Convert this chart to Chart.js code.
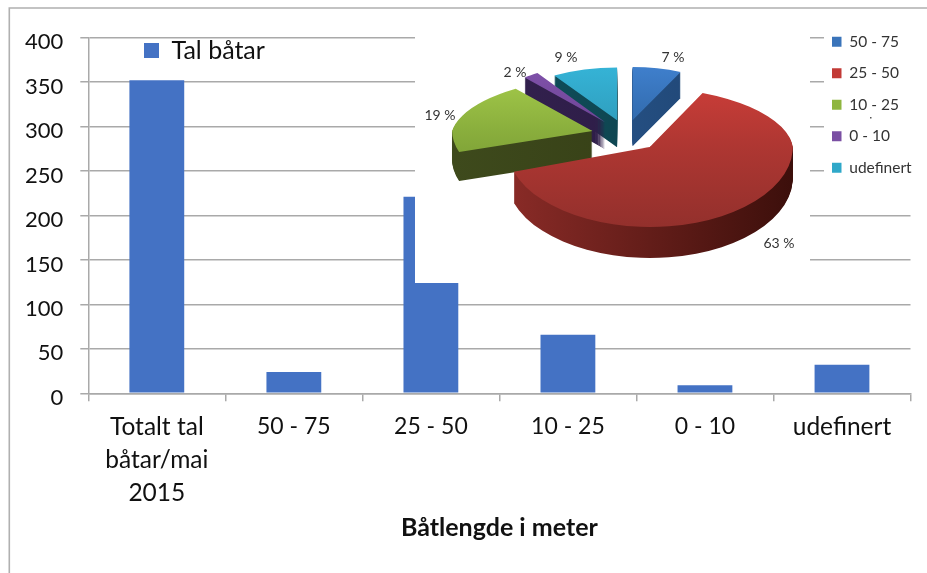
<!DOCTYPE html>
<html><head><meta charset="utf-8">
<style>
html,body{margin:0;padding:0;background:#fff;width:927px;height:573px;overflow:hidden}
canvas{position:absolute;left:0;top:0}
</style>
<script src="https://cdn.jsdelivr.net/npm/chart.js@4"></script>
</head><body>
<canvas id="bars" width="927" height="573"></canvas>
<canvas id="pie" width="927" height="573"></canvas>
<script>
const categories = [['Totalt tal','båtar/mai','2015'],'50 - 75','25 - 50','10 - 25','0 - 10','udefinert'];
const boatCounts = [352,24,221,66,9,32];
const seriesName = 'Tal båtar';
const axisTitle = 'Båtlengde i meter';
const yTickStep = 50;
const pieLabels = ['50 - 75','25 - 50','10 - 25','0 - 10','udefinert'];
const piePercent = [7,63,19,2,9];

const pieColors = ['#3a74ba','#c23a36','#8fb63f','#7a4fa3','#2fa8c9'];
const topLight  = ['#3f7fcc','#c93d38','#a3c94a','#8152ab','#35b3d6'];
const topDark   = ['#24578f','#93302c','#70932f','#5c3a85','#2a8ba8'];
const sideFrom  = ['#2b5a92','#8a2b27','#3e4a1c','#33214f','#0f4f5c'];
const sideTo    = ['#1e4370','#3c0f0b','#333b14','#2a1a42','#0f3e48'];
const paintOrder = [0,4,3,2,1];
const explodePx = [30,36,35,36,32];
const explodeFlat = [0.61,0.33,0.72,0.55,0.58];
const sliceRx   = [0.79,1,0.98,0.88,0.82];
const sliceKUp  = [0.47,0.417,0.39,0.46,0.45];
const sliceKDown= [0.47,0.56,0.485,0.46,0.45];
const sliceShear= [0,0.15,-0.3,0,0];
const sliceDepth= [26,31,29,27,27];
const pieCentre = {x:626,y:138};
const pieRadius = 143;
const labelAnchors = [[673,57],[779,243],[440,115],[515,72],[566,57]];

const FONT = 'Lato, "Open Sans", sans-serif';
const GRID = '#a9a9a9';
const isWordTick = i => i===0 || i===5;

const frame = {
  id:'frame',
  beforeDraw(c){
    const x=c.ctx; x.save(); x.strokeStyle='#b0b0b0'; x.lineWidth=1.6;
    x.beginPath(); x.moveTo(9.3,573); x.lineTo(9.3,8); x.lineTo(927,8); x.stroke(); x.restore();
  },
  afterLayout(c){ if(c.legend){ c.legend.left=139; c.legend.top=33; c.legend.right=300; c.legend.bottom=120; } }
};

new Chart(document.getElementById('bars'),{
  type:'bar',
  data:{labels:categories,datasets:[{label:seriesName,data:boatCounts,backgroundColor:'#4472c4',barPercentage:1,categoryPercentage:0.4}]},
  plugins:[frame],
  options:{
    responsive:false,animation:false,
    layout:{padding:{left:0,top:37.7,right:16.5,bottom:0},autoPadding:false},
    plugins:{
      legend:{position:'chartArea',align:'start',labels:{boxWidth:15,boxHeight:15,padding:5,color:'#111',font:{family:FONT,size:25}}},
      tooltip:{enabled:false}
    },
    scales:{
      x:{
        grid:{drawOnChartArea:false,color:GRID,lineWidth:1.5,tickLength:8,tickColor:GRID},
        border:{color:GRID,width:1.5},
        ticks:{color:'#111',font:c=>({family:FONT,size:isWordTick(c.index)?24.5:23,lineHeight:1.33}),padding:10,maxRotation:0,autoSkip:false},
        title:{display:true,text:axisTitle,color:'#111',font:{family:FONT,size:25,weight:'bold'},padding:{top:0,bottom:30}},
        afterFit(s){s.height=179.7;}
      },
      y:{
        min:0,max:400,
        grid:{color:GRID,lineWidth:1.5,tickLength:8,tickColor:GRID},
        border:{color:GRID,width:1.5},
        ticks:{stepSize:yTickStep,color:'#111',font:{family:FONT,size:22},padding:17,labelOffset:4.5},
        afterFit(s){s.width=88.3;}
      }
    }
  }
});

const pie3d = {
  id:'pie3d',
  beforeDraw(c){
    const x=c.ctx; x.save(); x.fillStyle='#fff';
    x.fillRect(415,28,395,255);
    x.fillRect(824,28,103,162);
    x.fillStyle='#555'; x.fillRect(870,117,1.5,1.5);
    x.restore();
  },
  afterLayout(c){ if(c.legend){ c.legend.left=816; c.legend.top=18; c.legend.right=925; c.legend.bottom=400; } },
  beforeDatasetsDraw(c){
    const ctx=c.ctx, arcs=c.getDatasetMeta(0).data;
    const drawSlice=(a,i,dy)=>{
      const mid=(a.startAngle+a.endAngle)/2, e=explodePx[i], s=sliceRx[i];
      const X=pieCentre.x+Math.cos(mid)*e, Y=pieCentre.y+Math.sin(mid)*e*explodeFlat[i]+dy;
      ctx.save();
      ctx.beginPath(); ctx.rect(0,0,c.width,Y+0.4); ctx.clip();
      ctx.translate(X,Y); ctx.transform(1,0,sliceShear[i],1,0,0);
      ctx.scale(s,s*sliceKUp[i]); ctx.translate(-a.x,-a.y);
      a.draw(ctx);
      ctx.restore();
      ctx.save();
      ctx.beginPath(); ctx.rect(0,Y-0.4,c.width,c.height); ctx.clip();
      ctx.translate(X,Y);
      ctx.scale(s,s*sliceKDown[i]); ctx.translate(-a.x,-a.y);
      a.draw(ctx);
      ctx.restore();
    };
    const base=arcs.map(a=>a.options);
    paintOrder.forEach(i=>{
      const a=arcs[i], R=a.outerRadius;
      const side=ctx.createLinearGradient(a.x-R,0,a.x+R,0);
      side.addColorStop(0,sideFrom[i]); side.addColorStop(1,sideTo[i]);
      a.options=Object.assign({},base[i],{backgroundColor:side,borderWidth:0});
      for(let d=sliceDepth[i];d>=1;d--) drawSlice(a,i,d);
      const top=ctx.createLinearGradient(0,a.y-R,0,a.y+R);
      top.addColorStop(0,topLight[i]); top.addColorStop(1,topDark[i]);
      a.options=Object.assign({},base[i],{backgroundColor:top,borderWidth:0});
      drawSlice(a,i,0);
      a.options=base[i];
    });
    ctx.save();
    ctx.fillStyle='#333'; ctx.font='14px '+FONT; ctx.textAlign='center'; ctx.textBaseline='middle';
    piePercent.forEach((v,i)=>ctx.fillText(v+' %',labelAnchors[i][0],labelAnchors[i][1]));
    ctx.restore();
    return false;
  }
};

new Chart(document.getElementById('pie'),{
  type:'pie',
  data:{labels:pieLabels,datasets:[{data:piePercent,backgroundColor:pieColors,borderWidth:0,radius:pieRadius,clip:false}]},
  plugins:[pie3d],
  options:{
    responsive:false,animation:false,
    layout:{autoPadding:false},
    plugins:{
      legend:{position:'chartArea',align:'start',labels:{boxWidth:9.5,boxHeight:10,padding:16,color:'#333',font:{family:FONT,size:15.5}}},
      tooltip:{enabled:false}
    }
  }
});
</script>
</body></html>
